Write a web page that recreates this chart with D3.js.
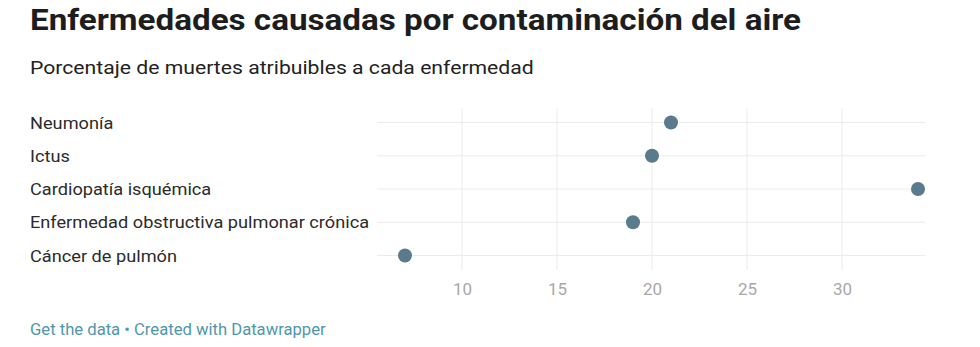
<!DOCTYPE html>
<html>
<head>
<meta charset="utf-8">
<script src="https://cdn.jsdelivr.net/npm/d3@7"></script>
<style>
  html, body { margin: 0; padding: 0; background: #fff; }
  svg { display: block; }
  text { font-family: Roboto, "Noto Sans", sans-serif; }
</style>
</head>
<body>
<svg id="chart" width="980" height="347"></svg>
<script>
const title = "Enfermedades causadas por contaminación del aire";
const subtitle = "Porcentaje de muertes atribuibles a cada enfermedad";
const footer = "Get the data • Created with Datawrapper";
const categories = ["Neumonía", "Ictus", "Cardiopatía isquémica", "Enfermedad obstructiva pulmonar crónica", "Cáncer de pulmón"];
const values = [21, 20, 34, 19, 7];
const tickValues = [10, 15, 20, 25, 30];

const svg = d3.select("#chart");

function stretched(sel, sx) {
  // horizontal stretch of text anchored at its x
  sel.each(function() {
    const t = d3.select(this);
    const x0 = +t.attr("x"), y0 = +t.attr("y");
    t.attr("x", 0).attr("y", 0).attr("transform", `translate(${x0},${y0}) scale(${sx},1)`);
  });
}

svg.append("text").attr("x", 30).attr("y", 30)
  .attr("font-size", 29).attr("font-weight", 700).attr("fill", "#1d1d1d")
  .text(title).call(stretched, 1.145);

svg.append("text").attr("x", 30).attr("y", 74)
  .attr("font-size", 18.5).attr("fill", "#222")
  .text(subtitle).call(stretched, 1.145);

const x = d3.scaleLinear().domain([7, 34]).range([405, 918]);
const y = d3.scalePoint().domain(categories).range([122.5, 255.5]);

const gridLeft = 377, gridRight = 925;
const g = svg.append("g");

// vertical grid
g.selectAll("line.v").data(tickValues).join("line")
  .attr("class", "v")
  .attr("x1", d => x(d)).attr("x2", d => x(d))
  .attr("y1", 108).attr("y2", 270)
  .attr("stroke", "#ebebeb").attr("stroke-width", 1);

// horizontal grid
g.selectAll("line.h").data(categories).join("line")
  .attr("class", "h")
  .attr("x1", gridLeft).attr("x2", gridRight)
  .attr("y1", d => y(d)).attr("y2", d => y(d))
  .attr("stroke", "#ebebeb").attr("stroke-width", 1);

// axis labels
const axis = d3.axisBottom(x).tickValues(tickValues).tickSize(0).tickPadding(0);
const ax = svg.append("g").attr("transform", "translate(0,295)").call(axis);
ax.select(".domain").remove();
ax.selectAll("text").attr("font-size", 17).attr("fill", "#a8a8a8")
  .attr("font-family", "Roboto, sans-serif").attr("dy", "0").attr("y", 0);

// row labels
svg.append("g").selectAll("text").data(categories).join("text")
  .attr("x", 30).attr("y", d => y(d) + 6)
  .attr("font-size", 17).attr("fill", "#2b2b2b")
  .text(d => d).call(stretched, 1.07);

// dots
svg.append("g").selectAll("circle").data(values).join("circle")
  .attr("cx", d => x(d)).attr("cy", (d, i) => y(categories[i]))
  .attr("r", 7).attr("fill", "#5a7a8e");

svg.append("text").attr("x", 30).attr("y", 335)
  .attr("font-size", 16).attr("fill", "#4f97ab")
  .text(footer).call(stretched, 1.04);
</script>
</body>
</html>
